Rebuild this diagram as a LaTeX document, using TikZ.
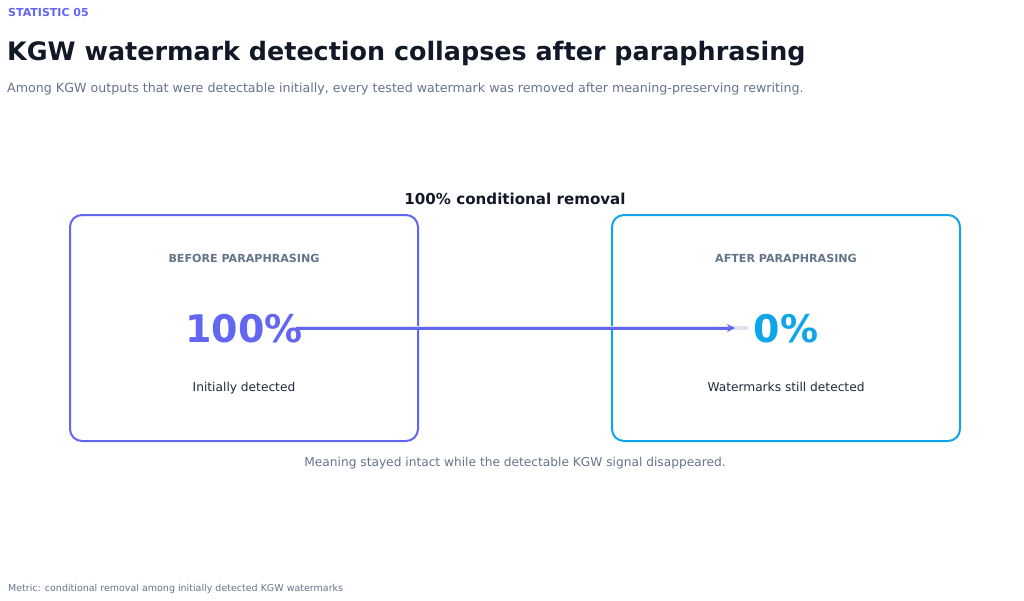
\documentclass[tikz,border=0pt]{standalone}
\usepackage{fontspec}
\setmainfont{DejaVu Sans}
\usetikzlibrary{arrows.meta}
\definecolor{indigo}{HTML}{6366F1}
\definecolor{sky}{HTML}{0EA5E9}
\definecolor{ink}{HTML}{111827}
\definecolor{slate}{HTML}{64748B}
\definecolor{dark}{HTML}{1E293B}
\definecolor{track}{HTML}{E2E2EA}
\tikzset{
  panel/.style={draw, line width=2pt, rounded corners=12pt},
  captxt/.style={font=\bfseries\fontsize{11.1}{13}\selectfont, text=slate, inner sep=0pt, anchor=base},
  bignum/.style={font=\bfseries\fontsize{38}{40}\selectfont, inner sep=0pt, anchor=base},
  subtxt/.style={font=\fontsize{12.2}{15}\selectfont, text=dark, inner sep=0pt, anchor=base},
}
\begin{document}
\begin{tikzpicture}[x=1pt,y=-1pt]
\useasboundingbox (0,0) rectangle (1024,600);
\node[anchor=base west, inner sep=0pt, text=indigo, font=\bfseries\fontsize{11}{13}\selectfont] (kicker) at (8,16) {STATISTIC 05};
\node[anchor=base west, inner sep=0pt, text=ink, font=\bfseries\fontsize{25.4}{30}\selectfont] (title) at (7,60) {KGW watermark detection collapses after paraphrasing};
\node[anchor=base west, inner sep=0pt, text=slate, font=\fontsize{12.65}{16}\selectfont] (subtitle) at (7,92) {Among KGW outputs that were detectable initially, every tested watermark was removed after meaning-preserving rewriting.};

\node[anchor=base, inner sep=0pt, text=ink, font=\bfseries\fontsize{15.1}{18}\selectfont] (head) at (515,204) {100\% conditional removal};

\draw[panel, indigo] (70,215) rectangle (418,441);
\draw[panel, sky] (612,215) rectangle (960,441);

\node[captxt] (lcap) at (244,262) {BEFORE PARAPHRASING};
\node[captxt] (rcap) at (786,262) {AFTER PARAPHRASING};

\node[bignum, text=indigo] (lnum) at (244,342) {100\%};
\node[bignum, text=sky] (rnum) at (786,342) {0\%};

\node[subtxt] (lsub) at (244,391) {Initially detected};
\node[subtxt] (rsub) at (786,391) {Watermarks still detected};

\coordinate (astart) at (296,328);
\coordinate (tend) at (748,328);
\coordinate (aend) at (735,328);
\draw[track, line width=4pt] (astart) -- (tend);
\draw[indigo, line width=3pt, -{Stealth[length=8pt,width=8pt]}] (astart) -- (aend);

\node[anchor=base, inner sep=0pt, text=slate, font=\fontsize{12.2}{15}\selectfont] (note) at (515,466) {Meaning stayed intact while the detectable KGW signal disappeared.};
\node[anchor=base west, inner sep=0pt, text=slate, font=\fontsize{9.5}{12}\selectfont] (metric) at (8,591) {Metric: conditional removal among initially detected KGW watermarks};
\end{tikzpicture}
\end{document}
